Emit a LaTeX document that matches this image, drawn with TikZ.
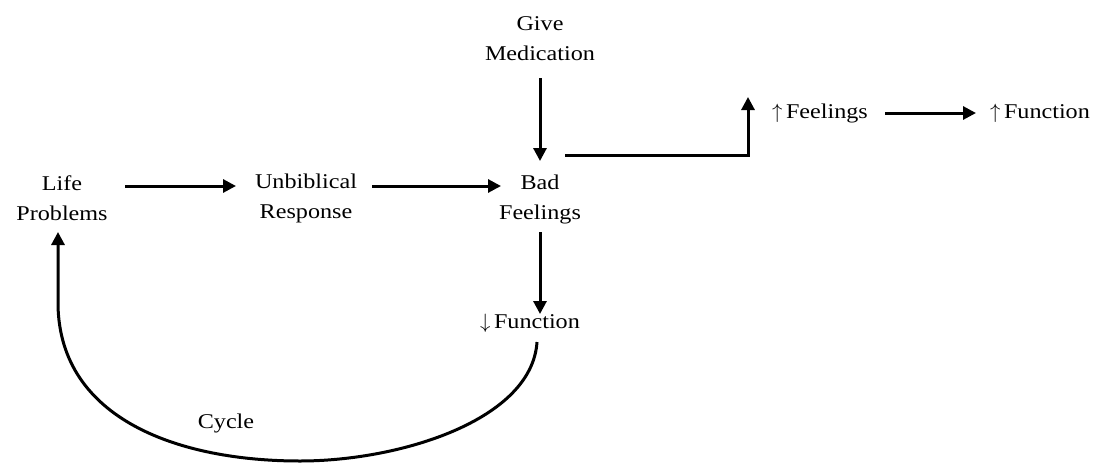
\documentclass[tikz,border=0pt]{standalone}
\usepackage{fontspec}
\setmainfont{Liberation Serif}[FakeStretch=1.15]
\usetikzlibrary{arrows.meta}
\begin{document}
\begin{tikzpicture}[x=1pt,y=-1pt,
  lbl/.style={align=center,font=\fontsize{21}{30}\selectfont,inner sep=2pt},
  arr/.style={line width=3pt,-{Triangle[length=13pt,width=13pt]}},
  cur/.style={line width=3pt}]
\useasboundingbox (0,0) rectangle (1115,466);
\node[lbl] (give) at (540,39) {Give\\Medication};
\node[lbl] (bad) at (540,199) {Bad\\Feelings};
\node[lbl] (life) at (62,198) {Life\\Problems};
\node[lbl] (unb) at (306,198) {Unbiblical\\Response};
\node[lbl] (fdown) at (530,323) {$\downarrow$\,Function};
\node[lbl] (fup) at (820,113) {$\uparrow$\,Feelings};
\node[lbl] (funup) at (1040,113) {$\uparrow$\,Function};
\node[lbl] (cycle) at (226,423) {Cycle};
\coordinate (lifeA) at (125,186);
\coordinate (lifeB) at (236,186);
\coordinate (unbA) at (372,186);
\coordinate (unbB) at (501,186);
\coordinate (giveA) at (540,78);
\coordinate (giveB) at (540,161);
\coordinate (badA) at (540,232);
\coordinate (badB) at (540,314);
\coordinate (badR) at (565,155);
\coordinate (corner) at (748,155);
\coordinate (cornerUp) at (748,97);
\coordinate (fupA) at (885,113);
\coordinate (fupB) at (976,113);
\coordinate (curS) at (537,342);
\coordinate (curBot) at (300,461);
\coordinate (curL) at (58,305);
\coordinate (curE) at (58,232);
\draw[arr] (lifeA) -- (lifeB);
\draw[arr] (unbA) -- (unbB);
\draw[arr] (giveA) -- (giveB);
\draw[arr] (badA) -- (badB);
\draw[arr] (badR) -- (corner) -- (cornerUp);
\draw[arr] (fupA) -- (fupB);
\draw[cur] (curS) .. controls (532,420) and (400,461) .. (curBot);
\draw[arr] (curBot) .. controls (180,461) and (60,420) .. (curL) -- (curE);
\end{tikzpicture}
\end{document}
